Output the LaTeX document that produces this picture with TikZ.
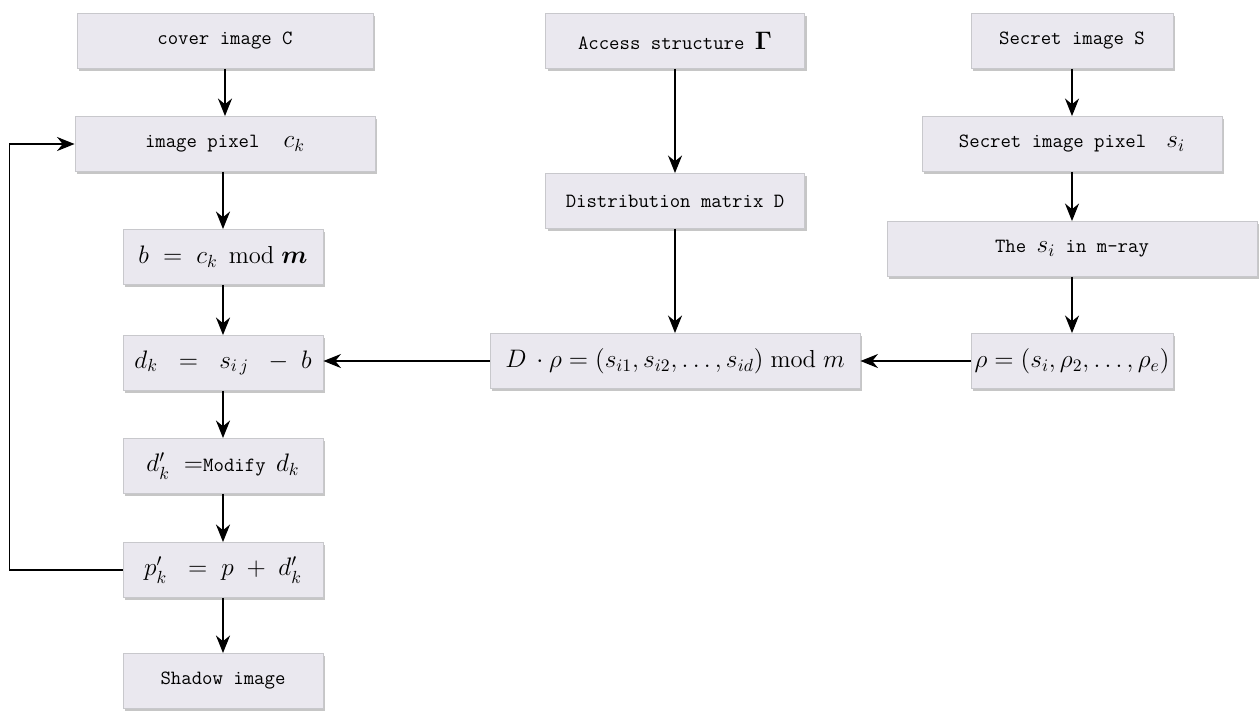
\documentclass[tikz,border=0pt]{standalone}
\usepackage{fontspec}
\usepackage{amsmath,bm}
\usetikzlibrary{arrows.meta,shadows}
\definecolor{boxfill}{HTML}{EAE8EF}
\definecolor{boxline}{HTML}{C8C8CC}
\tikzset{
  x=0.02cm,y=-0.02cm,
  stepbox/.style={draw=boxline,fill=boxfill,line width=0.5pt,minimum height=1.1cm,inner sep=2pt,
     font=\ttfamily\fontsize{11.5}{13}\selectfont,
     drop shadow={opacity=0.45,shadow xshift=1.2pt,shadow yshift=-1.2pt}},
  arr/.style={line width=0.8pt,-{Stealth[length=10pt,width=8pt]}},
}
\newcommand{\mth}[1]{{\fontsize{14}{16}\selectfont$#1$}}
\begin{document}
\begin{tikzpicture}
\useasboundingbox (0,0) rectangle (1260,711);
% left column
\node[stepbox,minimum width=5.92cm] (cover) at (225,41) {cover image C};
\node[stepbox,minimum width=6.0cm] (pixel) at (225,144) {image pixel\hspace{1.2em}\mth{c_k}};
\node[stepbox,minimum width=4.0cm] (b) at (223,257) {\mth{b\;=\;c_k\,\bmod\bm{m}}};
\node[stepbox,minimum width=4.0cm] (dk) at (223,363) {\mth{d_k\;\;=\;\;s_{i\,j}\;\;-\;b}};
\node[stepbox,minimum width=4.0cm] (dkp) at (223,466) {\mth{d'_k\;=}Modify \mth{d_k}};
\node[stepbox,minimum width=4.0cm] (pk) at (223,570) {\mth{p'_k\;\;=\;p\;+\;d'_k}};
\node[stepbox,minimum width=4.0cm] (shadow) at (223,681) {Shadow image};
% middle column
\node[stepbox,minimum width=5.18cm] (access) at (675,41) {Access structure \mth{\bm{\Gamma}}};
\node[stepbox,minimum width=5.18cm] (dist) at (675,201) {Distribution matrix D};
\node[stepbox,minimum width=7.4cm] (drho) at (675,361) {\mth{D\,\cdot\rho=(s_{i1},s_{i2},\ldots,s_{id})\bmod m}};
% right column
\node[stepbox,minimum width=4.04cm] (secret) at (1072,41) {Secret image S};
\node[stepbox,minimum width=6.0cm] (spixel) at (1072,144) {Secret image pixel\hspace{1em}\mth{s_i}};
\node[stepbox,minimum width=7.4cm] (mray) at (1072,249) {The \mth{s_i} in m-ray};
\node[stepbox,minimum width=4.0cm] (rho) at (1072,361) {\mth{\rho=(s_i,\rho_2,\ldots,\rho_e)}};
% arrows
\draw[arr] (cover) -- (pixel);
\draw[arr] (pixel.south -| b.north) -- (b);
\draw[arr] (b) -- (dk);
\draw[arr] (dk) -- (dkp);
\draw[arr] (dkp) -- (pk);
\draw[arr] (pk) -- (shadow);
\draw[arr] (pk.west) -- ++(-113,0) |- (pixel.west);
\draw[arr] (access) -- (dist);
\draw[arr] (dist) -- (drho);
\draw[arr] (secret) -- (spixel);
\draw[arr] (spixel) -- (mray);
\draw[arr] (mray) -- (rho);
\draw[arr] (rho) -- (drho);
\draw[arr] (drho.west) -- (drho.west -| dk.east);
\end{tikzpicture}
\end{document}
